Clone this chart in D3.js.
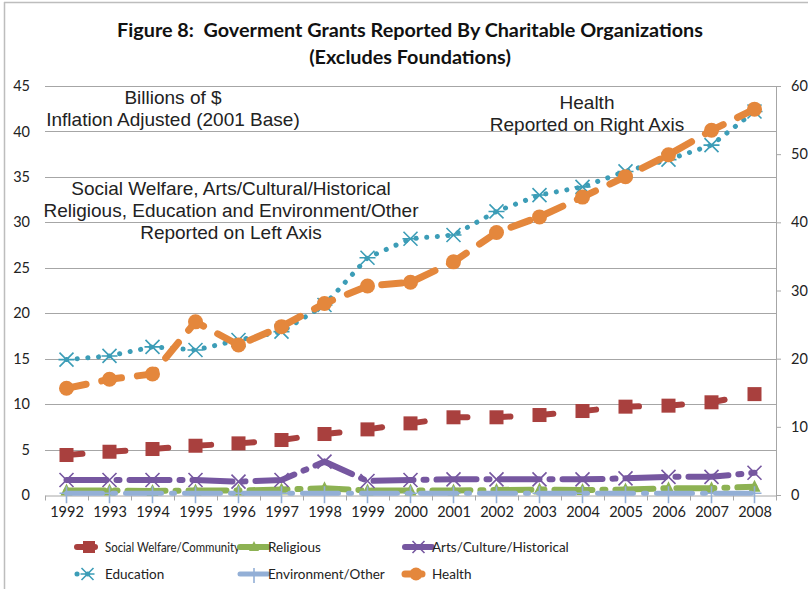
<!DOCTYPE html>
<html>
<head>
<meta charset="utf-8">
<script src="https://cdn.jsdelivr.net/npm/d3@7"></script>
<style>
  body { margin: 0; background: #fff; }
  svg { display: block; }
</style>
</head>
<body>
<div id="chart"></div>
<script>
// Chart data (billions of $, inflation adjusted, 2001 base)
const years = ["1992","1993","1994","1995","1996","1997","1998","1999","2000",
               "2001","2002","2003","2004","2005","2006","2007","2008"];
const socialWelfare = [4.4, 4.76, 5.06, 5.42, 5.68, 6.05, 6.71, 7.22, 7.88, 8.55, 8.55, 8.8, 9.24, 9.72, 9.83, 10.2, 11.1];
const religious     = [0.5, 0.5, 0.45, 0.5, 0.5, 0.6, 0.75, 0.5, 0.5, 0.5, 0.55, 0.6, 0.55, 0.6, 0.75, 0.75, 0.9];
const arts          = [1.65, 1.65, 1.65, 1.65, 1.47, 1.65, 3.67, 1.54, 1.65, 1.72, 1.72, 1.72, 1.72, 1.83, 2.0, 2.0, 2.45];
const education     = [14.9, 15.3, 16.3, 15.95, 17.05, 17.97, 20.9, 26.1, 28.2, 28.6, 31.2, 33.0, 33.9, 35.6, 36.9, 38.5, 42.2];
const environment   = [0.2, 0.2, 0.2, 0.2, 0.2, 0.2, 0.2, 0.2, 0.2, 0.2, 0.2, 0.2, 0.2, 0.2, 0.2, 0.2, 0.2];
const health        = [15.65, 16.97, 17.75, 25.4, 22.0, 24.7, 28.1, 30.66, 31.2, 34.2, 38.5, 40.8, 43.7, 46.7, 49.9, 53.5, 56.6];

const leftTicks = [0, 5, 10, 15, 20, 25, 30, 35, 40, 45];
const rightTicks = [0, 10, 20, 30, 40, 50, 60];

// series styling: which axis, colour, line dash and marker shape
const series = [
  { name: "Social Welfare/Community", values: socialWelfare, axis: "left", color: "#A9403E", width: 6, dash: "16,27", cap: "round", marker: "square" },
  { name: "Religious", values: religious, axis: "left", color: "#8DB253", width: 6, dash: "38,10,3,10", cap: "round", marker: "triangle" },
  { name: "Arts/Culture/Historical", values: arts, axis: "left", color: "#7657A0", width: 6, dash: "40,10,3,10", cap: "round", marker: "x" },
  { name: "Education", values: education, axis: "left", color: "#3C9DB7", width: 5, dash: "0.1,10.6", cap: "round", marker: "asterisk" },
  { name: "Environment/Other", values: environment, axis: "left", color: "#93AFD6", width: 5, dash: "36,10,3,10", cap: "round", marker: "plus" },
  { name: "Health", values: health, axis: "right", color: "#E4873C", width: 7, dash: "20,16", cap: "round", marker: "circle" }
];

const width = 808, height = 589;
const plot = { left: 45, right: 776, top: 86, bottom: 495 };

const svg = d3.select("#chart").append("svg")
    .attr("width", width)
    .attr("height", height)
    .style("font-family", "Lato, 'Open Sans', sans-serif");

// chart frame
svg.append("line").attr("x1", 4).attr("x2", width).attr("y1", 2.5).attr("y2", 2.5)
    .attr("stroke", "#bdbdbd").attr("stroke-width", 1.5);
svg.append("line").attr("x1", 4.5).attr("x2", 4.5).attr("y1", 2).attr("y2", height)
    .attr("stroke", "#bdbdbd").attr("stroke-width", 1.5);

const x = d3.scalePoint().domain(years).range([plot.left, plot.right]).padding(0.5);
const xBounds = d3.scaleLinear().domain([0, years.length]).range([plot.left, plot.right]);
const yLeft = d3.scaleLinear().domain([0, 45]).range([plot.bottom, plot.top]);
const yRight = d3.scaleLinear().domain([0, 60]).range([plot.bottom, plot.top]);

// gridlines
svg.append("g")
    .selectAll("line")
    .data(leftTicks.filter(d => d > 0))
    .join("line")
    .attr("x1", plot.left).attr("x2", plot.right)
    .attr("y1", d => Math.round(yLeft(d)) + 0.5).attr("y2", d => Math.round(yLeft(d)) + 0.5)
    .attr("stroke", "#a6a6a6").attr("stroke-width", 1);

// left axis
const leftAxis = svg.append("g")
    .attr("transform", `translate(${plot.left},0)`)
    .call(d3.axisLeft(yLeft).tickValues(leftTicks).tickSize(0).tickPadding(15));
leftAxis.select(".domain").remove();
leftAxis.selectAll("text").attr("font-size", 14.5).attr("fill", "#222").style("font-family", "Lato, sans-serif");

// right axis
const rightAxis = svg.append("g")
    .attr("transform", `translate(${plot.right},0)`)
    .call(d3.axisRight(yRight).tickValues(rightTicks).tickSize(5).tickSizeOuter(0).tickPadding(10));
rightAxis.select(".domain").attr("stroke", "#a6a6a6");
rightAxis.selectAll("line").attr("stroke", "#a6a6a6");
rightAxis.selectAll("text").attr("font-size", 14.5).attr("fill", "#222").style("font-family", "Lato, sans-serif");

// bottom axis: ticks between categories, labels centred on categories
const bottomTicks = svg.append("g")
    .attr("transform", `translate(0,${plot.bottom + 0.5})`)
    .call(d3.axisBottom(xBounds).ticks(years.length).tickSize(5).tickSizeOuter(0).tickFormat(""));
bottomTicks.select(".domain").attr("stroke", "#a6a6a6");
bottomTicks.selectAll("line").attr("stroke", "#a6a6a6");

const bottomLabels = svg.append("g")
    .attr("transform", `translate(0,${plot.bottom})`)
    .call(d3.axisBottom(x).tickSize(0).tickPadding(12));
bottomLabels.select(".domain").remove();
bottomLabels.selectAll("text").attr("font-size", 14.5).attr("fill", "#222").style("font-family", "Lato, sans-serif");

// marker drawing
function drawMarker(g, shape, color, cx, cy, s) {
  const h = s / 2;
  if (shape === "square") {
    g.append("rect").attr("x", cx - h).attr("y", cy - h).attr("width", s).attr("height", s).attr("fill", color);
  } else if (shape === "circle") {
    g.append("circle").attr("cx", cx).attr("cy", cy).attr("r", h).attr("fill", color);
  } else if (shape === "triangle") {
    g.append("path").attr("d", `M${cx},${cy - h - 1}L${cx + h},${cy + h - 1}L${cx - h},${cy + h - 1}Z`).attr("fill", color);
  } else if (shape === "x") {
    g.append("path").attr("d", `M${cx - h},${cy - h}L${cx + h},${cy + h}M${cx - h},${cy + h}L${cx + h},${cy - h}`)
      .attr("stroke", color).attr("stroke-width", 1.6);
  } else if (shape === "asterisk") {
    g.append("path").attr("d", `M${cx - h},${cy - h}L${cx + h},${cy + h}M${cx - h},${cy + h}L${cx + h},${cy - h}M${cx - h - 1},${cy}L${cx + h + 1},${cy}`)
      .attr("stroke", color).attr("stroke-width", 1.6);
  } else if (shape === "plus") {
    g.append("path").attr("d", `M${cx},${cy - h}L${cx},${cy + h + 3}M${cx - h},${cy}L${cx + h},${cy}`)
      .attr("stroke", color).attr("stroke-width", 1.6);
  }
}

const markerSize = { square: 14, circle: 15, triangle: 12, x: 14, asterisk: 14, plus: 14 };

// series lines and markers
series.forEach(s => {
  const y = s.axis === "left" ? yLeft : yRight;
  const line = d3.line().x((d, i) => x(years[i])).y(d => y(d));
  const g = svg.append("g");
  g.append("path")
    .datum(s.values)
    .attr("d", line)
    .attr("fill", "none")
    .attr("stroke", s.color)
    .attr("stroke-width", s.width)
    .attr("stroke-dasharray", s.dash)
    .attr("stroke-linecap", s.cap);
  s.values.forEach((v, i) => drawMarker(g, s.marker, s.color, x(years[i]), y(v), markerSize[s.marker]));
});

// title
const title = svg.append("g").attr("font-weight", "bold").attr("fill", "#111")
    .attr("text-anchor", "middle").attr("font-size", 19.8);
title.append("text").attr("x", 410).attr("y", 37).attr("xml:space", "preserve")
    .text("Figure 8:  Goverment Grants Reported By Charitable Organizations");
title.append("text").attr("x", 410).attr("y", 64).text("(Excludes Foundations)");

// annotations
const notes = [
  { x: 173, y: 104, text: "Billions of $" },
  { x: 173, y: 126, text: "Inflation Adjusted (2001 Base)" },
  { x: 231, y: 195, text: "Social Welfare, Arts/Cultural/Historical" },
  { x: 231, y: 217, text: "Religious, Education and Environment/Other" },
  { x: 231, y: 239, text: "Reported on Left Axis" },
  { x: 587, y: 109, text: "Health" },
  { x: 587, y: 131, text: "Reported on Right Axis" }
];
svg.append("g")
    .selectAll("text")
    .data(notes)
    .join("text")
    .attr("x", d => d.x).attr("y", d => d.y)
    .attr("text-anchor", "middle")
    .attr("font-size", 19)
    .attr("fill", "#222")
    .style("font-family", "'Liberation Sans', Arial, sans-serif")
    .text(d => d.text);

// legend
const legendPos = [
  { x1: 77, x2: 95, y: 547 }, { x1: 240, x2: 268, y: 547 }, { x1: 405, x2: 432, y: 547 },
  { x1: 77, x2: 98, y: 574 }, { x1: 240, x2: 268, y: 574 }, { x1: 405, x2: 422, y: 574 }
];
const legendTextX = [105, 268, 432, 105, 268, 432];
series.forEach((s, i) => {
  const p = legendPos[i];
  const g = svg.append("g");
  const cx = s.marker === "square" || s.marker === "circle" ? p.x2 - 6 : (p.x1 + p.x2) / 2;
  g.append("line")
    .attr("x1", p.x1).attr("x2", p.x2).attr("y1", p.y).attr("y2", p.y)
    .attr("stroke", s.color).attr("stroke-width", s.width)
    .attr("stroke-dasharray", s.marker === "asterisk" ? "0.1,10.6" : null)
    .attr("stroke-linecap", s.cap);
  drawMarker(g, s.marker, s.color, cx, p.y, markerSize[s.marker] - 2);
  const label = g.append("text")
    .attr("x", legendTextX[i]).attr("y", p.y + 5)
    .attr("font-size", 13.5)
    .attr("fill", "#222")
    .style("font-family", "Lato, sans-serif")
    .text(s.name);
  // squeeze a label that would run into the next legend column
  const room = (i % 3 < 2 ? legendPos[i + 1].x1 : width) - legendTextX[i];
  const len = label.node().getComputedTextLength();
  if (len > room) {
    label.attr("textLength", room).attr("lengthAdjust", "spacingAndGlyphs");
  }
});
</script>
</body>
</html>
